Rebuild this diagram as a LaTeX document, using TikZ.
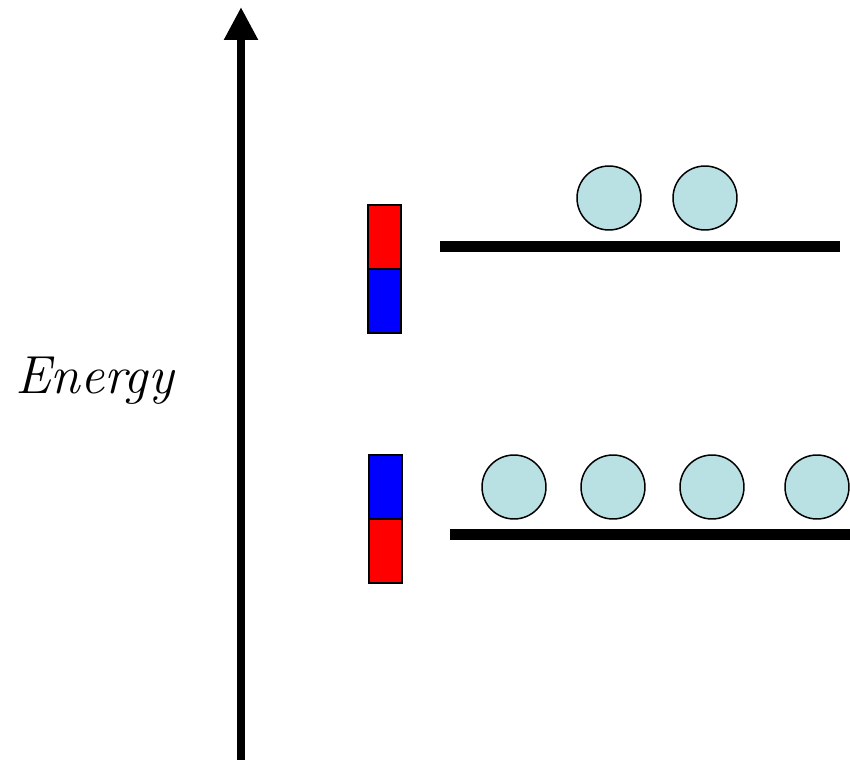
\documentclass[tikz,border=0pt]{standalone}
\usetikzlibrary{arrows.meta}
\definecolor{ballblue}{RGB}{185,224,227}
\begin{document}
\begin{tikzpicture}[
		x=0.02cm, y=-0.02cm,
		axis/.style={line width=5.1pt, -{Triangle[length=0.66cm,width=0.64cm]}},
		level/.style={line width=6pt},
		ball/.style={circle, draw, line width=0.85pt, fill=ballblue, minimum size=1.28cm, inner sep=0pt},
		pole/.style={draw, line width=1.1pt},
	]
	\useasboundingbox (0,0) rectangle (850,760);

	% ---------- energy axis ----------
	\coordinate (axisbot) at (241,760);
	\coordinate (axistop) at (241,7);
	\draw[axis] (axisbot) -- (axistop);
	\node[font=\fontsize{30.5}{36}\selectfont\itshape, anchor=base west, inner sep=0pt] (energy) at (15,394) {Energy};

	% ---------- upper level ----------
	\draw[pole, fill=red] (368,205) rectangle (401,269);
	\draw[pole, fill=blue] (368,269) rectangle (401,333);
	\coordinate (upL) at (440,246.5);
	\coordinate (upR) at (840,246.5);
	\draw[level] (upL) -- (upR);
	\node[ball] (up1) at (609,198) {};
	\node[ball] (up2) at (705,198) {};

	% ---------- lower level ----------
	\draw[pole, fill=blue] (369,455) rectangle (402,519);
	\draw[pole, fill=red] (369,519) rectangle (402,583);
	\coordinate (loL) at (450,534.5);
	\coordinate (loR) at (850,534.5);
	\draw[level] (loL) -- (loR);
	\node[ball] (lo1) at (514,487) {};
	\node[ball] (lo2) at (613,487) {};
	\node[ball] (lo3) at (712,487) {};
	\node[ball] (lo4) at (817,487) {};

\end{tikzpicture}
\end{document}
